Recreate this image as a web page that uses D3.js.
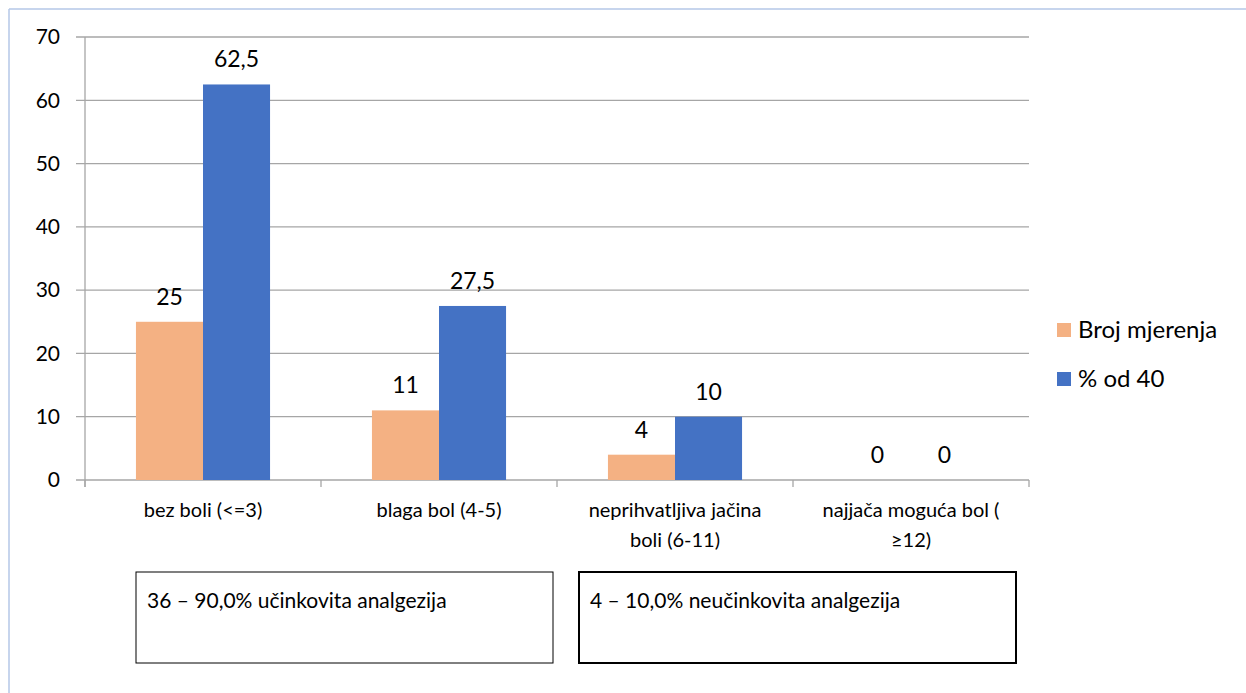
<!DOCTYPE html>
<html>
<head>
<meta charset="utf-8">
<script src="https://cdn.jsdelivr.net/npm/d3@7"></script>
<style>
  body { margin: 0; background: #fff; }
  svg text { font-family: Lato, "Open Sans", sans-serif; fill: #000; }
</style>
</head>
<body>
<div id="container"></div>
<script>
const categories = [
  ["bez boli (<=3)"],
  ["blaga bol (4-5)"],
  ["neprihvatljiva jačina", "boli (6-11)"],
  ["najjača moguća bol (", "≥12)"]
];
const seriesNames = ["Broj mjerenja", "% od 40"];
const brojMjerenja = [25, 11, 4, 0];
const postotak = [62.5, 27.5, 10, 0];
const yTicks = [0, 10, 20, 30, 40, 50, 60, 70];
const notes = ["36 – 90,0% učinkovita analgezija", "4 – 10,0% neučinkovita analgezija"];
const colors = ["#F4B183", "#4472C4"];

const width = 1246, height = 693;
const svg = d3.select("#container").append("svg")
  .attr("width", width).attr("height", height);

// outer frame
svg.append("line").attr("x1", 9).attr("y1", 9).attr("x2", width).attr("y2", 9)
  .attr("stroke", "#B4C7E7").attr("stroke-width", 1.5);
svg.append("line").attr("x1", 9).attr("y1", 9).attr("x2", 9).attr("y2", height)
  .attr("stroke", "#B4C7E7").attr("stroke-width", 1.5);

const plotL = 85, plotR = 1029, plotT = 37, plotB = 480;
const y = d3.scaleLinear().domain([0, 70]).range([plotB, plotT]);
const x = d3.scaleBand().domain(d3.range(categories.length)).range([plotL, plotR]);
const xs = d3.scaleBand().domain([0, 1]).range([0, x.bandwidth()]).paddingInner(0).paddingOuter(0.76);

// gridlines
svg.append("g").selectAll("line").data(yTicks).join("line")
  .attr("x1", plotL - 9).attr("x2", plotR)
  .attr("y1", d => y(d)).attr("y2", d => y(d))
  .attr("stroke", "#A6A6A6").attr("stroke-width", 1.3);

// y axis line
svg.append("line").attr("x1", plotL).attr("x2", plotL).attr("y1", plotT).attr("y2", plotB + 7)
  .attr("stroke", "#A6A6A6").attr("stroke-width", 1.3);
// category tick marks
svg.append("g").selectAll("line").data(d3.range(categories.length + 1)).join("line")
  .attr("x1", i => plotL + i * x.bandwidth()).attr("x2", i => plotL + i * x.bandwidth())
  .attr("y1", plotB).attr("y2", plotB + 7)
  .attr("stroke", "#A6A6A6").attr("stroke-width", 1.3);

// y tick labels
svg.append("g").selectAll("text").data(yTicks).join("text")
  .attr("x", 60).attr("y", d => y(d)).attr("dy", "0.35em")
  .attr("text-anchor", "end").style("font-size", "21px").text(d => d);

// bars
const series = [brojMjerenja, postotak];
series.forEach((vals, s) => {
  svg.append("g").selectAll("rect").data(vals).join("rect")
    .attr("x", (d, i) => x(i) + xs(s)).attr("width", xs.bandwidth())
    .attr("y", d => y(d)).attr("height", d => plotB - y(d))
    .attr("fill", colors[s]);
  svg.append("g").selectAll("text").data(vals).join("text")
    .attr("x", (d, i) => x(i) + xs(s) + xs.bandwidth() / 2)
    .attr("y", d => y(d) - 17)
    .attr("text-anchor", "middle").style("font-size", "23px")
    .text(d => String(d).replace(".", ","));
});

// category labels
const cat = svg.append("g").selectAll("text").data(categories).join("text")
  .attr("text-anchor", "middle").style("font-size", "20px")
  .attr("transform", (d, i) => `translate(${x(i) + x.bandwidth() / 2},${plotB + 37})`);
cat.selectAll("tspan").data(d => d).join("tspan")
  .attr("x", 0).attr("dy", (d, j) => j === 0 ? 0 : 30).text(d => d);

// legend
const lg = svg.append("g").attr("transform", "translate(1057,323)");
seriesNames.forEach((n, i) => {
  lg.append("rect").attr("x", 0).attr("y", i * 49).attr("width", 14).attr("height", 14)
    .attr("fill", colors[i]);
  lg.append("text").attr("x", 21).attr("y", i * 49 + 7).attr("dy", "0.35em")
    .style("font-size", "24px").text(n);
});

// note boxes
const boxes = [{ x: 136, w: 417, sw: 1 }, { x: 579, w: 437, sw: 2 }];
boxes.forEach((b, i) => {
  svg.append("rect").attr("x", b.x).attr("y", 572).attr("width", b.w).attr("height", 91)
    .attr("fill", "none").attr("stroke", "#000").attr("stroke-width", b.sw);
  svg.append("text").attr("x", b.x + 11).attr("y", 608)
    .style("font-size", "21px").text(notes[i]);
});
</script>
</body>
</html>
